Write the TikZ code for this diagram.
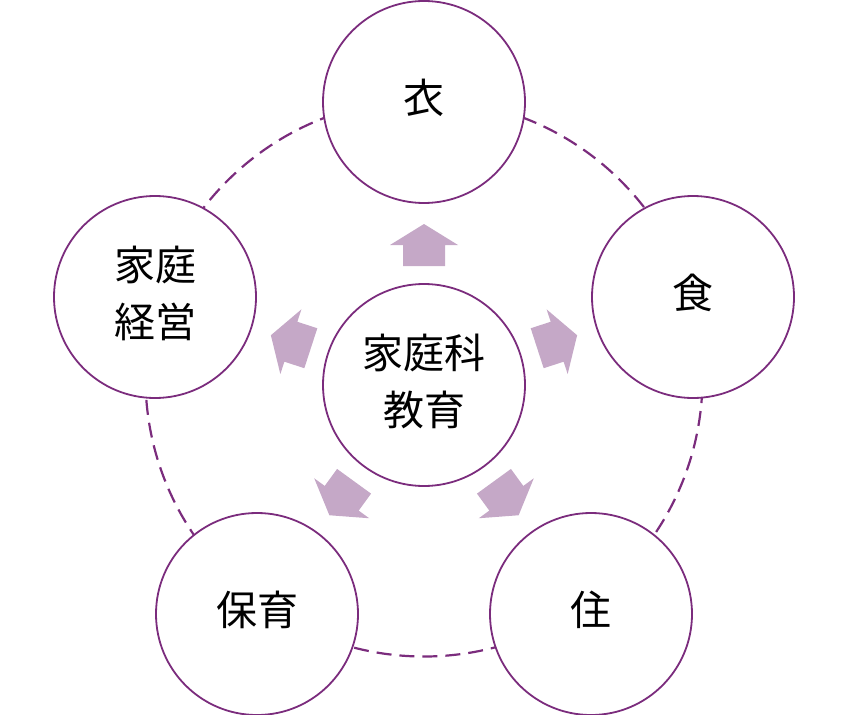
\documentclass[tikz,border=0pt]{standalone}
\usepackage{fontspec}
\newfontfamily\jpfont{Noto Sans CJK JP}
\definecolor{ring}{RGB}{123,44,125}
\definecolor{arrowfill}{RGB}{197,168,199}
\tikzset{
  bub/.style={circle, draw=ring, line width=1.8pt, fill=white, minimum size=202pt, inner sep=0pt},
  lbl/.style={font=\jpfont\fontsize{41}{57}\selectfont, align=center, inner sep=0pt},
  dashring/.style={draw=ring, line width=2.2pt, dash pattern=on 15pt off 8pt},
  blockarrow/.style={fill=arrowfill, draw=none}
}
\begin{document}
\begin{tikzpicture}[x=1pt,y=-1pt]
\useasboundingbox (0,0) rectangle (850,714);
\coordinate (O) at (424,385);
\coordinate (R) at (424,378);
% dashed ring behind the circles
\draw[dashring] (R) circle[radius=278.5pt];
% outer circles
\node[bub] (yi)   at (424,102) {};
\node[bub] (shoku) at (693,297) {};
\node[bub] (ju)   at (591,614) {};
\node[bub] (hoiku) at (257,614) {};
\node[bub] (keiei) at (155,297) {};
\node[bub] (center) at (O) {};
% labels
\node[lbl] (tyi)    at ([yshift=4pt]yi) {衣};
\node[lbl] (tshoku) at ([yshift=4pt]shoku) {食};
\node[lbl] (tju)    at ([yshift=4pt]ju) {住};
\node[lbl] (thoiku) at ([yshift=4pt]hoiku) {保育};
\node[lbl] (tkeiei) at ([yshift=4pt]keiei) {家庭\\経営};
\node[lbl] (tcenter) at ([yshift=4pt]center) {家庭科\\教育};
% block arrows
\foreach \a in {90,18,-54,-126,162}{
  \begin{scope}[shift={(O)}, rotate=\a]
    \fill[blockarrow] (119,-21) -- (140,-21) -- (140,-34) -- (161,0) -- (140,34) -- (140,21) -- (119,21) -- cycle;
  \end{scope}
}
\end{tikzpicture}
\end{document}
